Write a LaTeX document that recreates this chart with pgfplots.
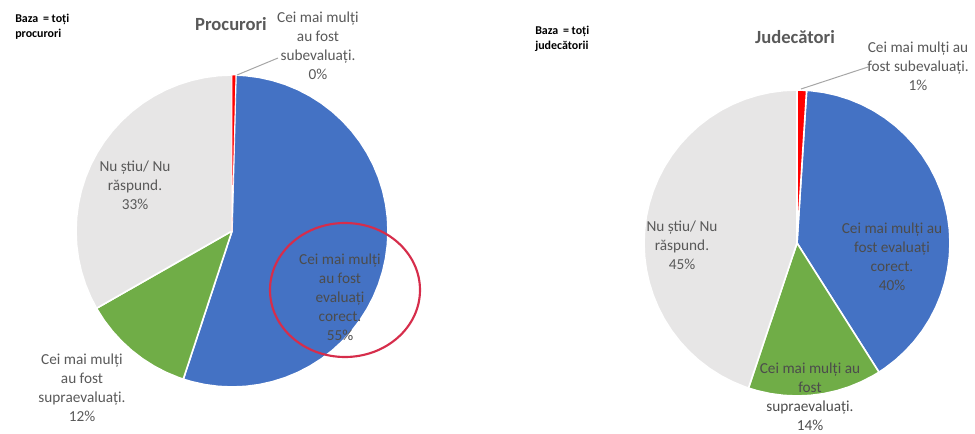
\documentclass[border=0pt]{standalone}
\usepackage{pgfplots}
\pgfplotsset{compat=1.18}
\usepgfplotslibrary{polar}
\usepackage{fontspec}
\setmainfont{Carlito}
\definecolor{pblue}{HTML}{4472C4}
\definecolor{pgreen}{HTML}{70AD47}
\definecolor{pgray}{HTML}{E7E6E6}
\definecolor{pred}{HTML}{FF0000}
\definecolor{lbl}{HTML}{595959}
\definecolor{circ}{HTML}{D62D4B}
\definecolor{lead}{HTML}{A6A6A6}
\pgfplotsset{
  pie/.style={hide axis, scale only axis, xmin=0, xmax=360, ymin=0, ymax=1, clip=false, anchor=center},
  slice/.style={draw=white, line width=1.2bp, line join=round, mark=none}
}
\tikzset{lab/.style={font=\fontsize{11.5}{14.25}\selectfont, text=lbl, align=center, inner sep=0pt}}
\begin{document}
\begin{tikzpicture}[x=0.75bp,y=-0.75bp]
\useasboundingbox (0,0) rectangle (975,434);
\coordinate (c1) at (232,231);
\coordinate (c2) at (797,243);
% Procurori: subevaluati 0.4%, corect 54.9%, supraevaluati 11.7%, nu stiu 33.0%
\begin{polaraxis}[pie, at={(c1)}, width=234bp, height=234bp]
\addplot[slice, fill=pblue] coordinates {(0,0) (88.56,1) (85,1) (80,1) (75,1) (70,1) (65,1) (60,1) (55,1) (50,1) (45,1) (40,1) (35,1) (30,1) (25,1) (20,1) (15,1) (10,1) (5,1) (0,1) (-5,1) (-10,1) (-15,1) (-20,1) (-25,1) (-30,1) (-35,1) (-40,1) (-45,1) (-50,1) (-55,1) (-60,1) (-65,1) (-70,1) (-75,1) (-80,1) (-85,1) (-90,1) (-95,1) (-100,1) (-105,1) (-108.2,1) (0,0)};
\addplot[slice, fill=pgreen] coordinates {(0,0) (-108.2,1) (-110,1) (-115,1) (-120,1) (-125,1) (-130,1) (-135,1) (-140,1) (-145,1) (-150,1) (-150.3,1) (0,0)};
\addplot[slice, fill=pgray] coordinates {(0,0) (-150.3,1) (-155,1) (-160,1) (-165,1) (-170,1) (-175,1) (-180,1) (-185,1) (-190,1) (-195,1) (-200,1) (-205,1) (-210,1) (-215,1) (-220,1) (-225,1) (-230,1) (-235,1) (-240,1) (-245,1) (-250,1) (-255,1) (-260,1) (-265,1) (-270,1) (0,0)};
\addplot[slice, fill=pred, line width=0.6bp] coordinates {(0,0) (90,1) (88.56,1) (0,0)};
\end{polaraxis}
% Judecatori: subevaluati 1%, corect 40%, supraevaluati 14%, nu stiu 45%
\begin{polaraxis}[pie, at={(c2)}, width=229.5bp, height=229.5bp]
\addplot[slice, fill=pblue] coordinates {(0,0) (86.4,1) (85,1) (80,1) (75,1) (70,1) (65,1) (60,1) (55,1) (50,1) (45,1) (40,1) (35,1) (30,1) (25,1) (20,1) (15,1) (10,1) (5,1) (0,1) (-5,1) (-10,1) (-15,1) (-20,1) (-25,1) (-30,1) (-35,1) (-40,1) (-45,1) (-50,1) (-55,1) (-57.6,1) (0,0)};
\addplot[slice, fill=pgreen] coordinates {(0,0) (-57.6,1) (-60,1) (-65,1) (-70,1) (-75,1) (-80,1) (-85,1) (-90,1) (-95,1) (-100,1) (-105,1) (-108.5,1) (0,0)};
\addplot[slice, fill=pgray] coordinates {(0,0) (-108.5,1) (-110,1) (-115,1) (-120,1) (-125,1) (-130,1) (-135,1) (-140,1) (-145,1) (-150,1) (-155,1) (-160,1) (-165,1) (-170,1) (-175,1) (-180,1) (-185,1) (-190,1) (-195,1) (-200,1) (-205,1) (-210,1) (-215,1) (-220,1) (-225,1) (-230,1) (-235,1) (-240,1) (-245,1) (-250,1) (-255,1) (-260,1) (-265,1) (-270,1) (0,0)};
\addplot[slice, fill=pred] coordinates {(0,0) (90,1) (86.4,1) (0,0)};
\end{polaraxis}
% texts, left
\node[anchor=north west, inner sep=0pt, align=left, font=\fontsize{9}{11.25}\selectfont\bfseries] at (15,14) {Baza\, = toți\\procurori};
\node[font=\fontsize{14}{16}\selectfont\bfseries, text=lbl, inner sep=0pt] at (231,24) {Procurori};
\draw[lead, line width=0.75bp] (237,75) -- (278,58);
\node[lab] at (318,46) {Cei mai mulți\\au fost\\subevaluați.\\0\%};
\node[lab] at (135,185) {Nu știu/ Nu\\răspund.\\33\%};
\node[lab, text=black!70] at (340,297) {Cei mai mulți\\au fost\\evaluați\\corect.\\55\%};
\node[lab] at (82,388) {Cei mai mulți\\au fost\\supraevaluați.\\12\%};
\draw[circ, line width=1.6bp] (345,290) ellipse [x radius=75, y radius=67];
% texts, right
\node[anchor=north west, inner sep=0pt, align=left, font=\fontsize{9}{11.25}\selectfont\bfseries] at (535,26) {Baza\, = toți\\judecătorii};
\node[font=\fontsize{14}{16}\selectfont\bfseries, text=lbl, inner sep=0pt] at (795,37) {Judecători};
\draw[lead, line width=0.75bp] (801,89) -- (868,67);
\node[lab] at (918,66) {Cei mai mulți au\\fost subevaluați.\\1\%};
\node[lab] at (682,245) {Nu știu/ Nu\\răspund.\\45\%};
\node[lab, text=black!70] at (892,257) {Cei mai mulți au\\fost evaluați\\corect.\\40\%};
\node[lab, text=black!70] at (810,397) {Cei mai mulți au\\fost\\supraevaluați.\\14\%};
\end{tikzpicture}
\end{document}
